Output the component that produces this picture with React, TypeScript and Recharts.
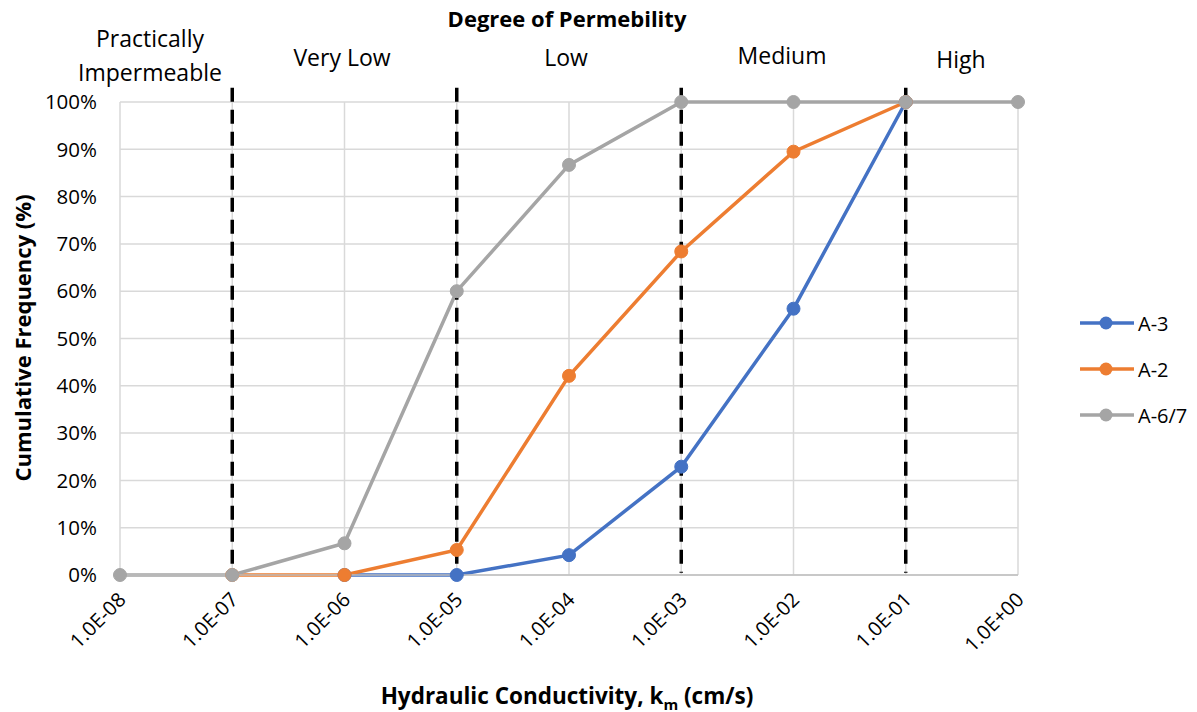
import { LineChart, Line, XAxis, YAxis, CartesianGrid, ReferenceLine } from 'recharts'

const conductivity = ['1.0E-08', '1.0E-07', '1.0E-06', '1.0E-05', '1.0E-04', '1.0E-03', '1.0E-02', '1.0E-01', '1.0E+00']
const a3 = [null, null, 0, 0, 4.2, 22.9, 56.3, 100, null]
const a2 = [null, 0, 0, 5.3, 42.1, 68.4, 89.5, 100, null]
const a67 = [0, 0, 6.7, 60, 86.7, 100, 100, 100, 100]
const yTicks = [0, 10, 20, 30, 40, 50, 60, 70, 80, 90, 100]
const boundaries = ['1.0E-07', '1.0E-05', '1.0E-03', '1.0E-01']

const series = [
  { key: 'a3', name: 'A-3', color: '#4472C4' },
  { key: 'a2', name: 'A-2', color: '#ED7D31' },
  { key: 'a67', name: 'A-6/7', color: '#A5A5A5' },
]

// permeability classes shown above the plot
const classes = [
  { lines: ['Practically', 'Impermeable'], x: 150, y: 21 },
  { lines: ['Very Low'], x: 342, y: 40 },
  { lines: ['Low'], x: 566, y: 40 },
  { lines: ['Medium'], x: 782, y: 38 },
  { lines: ['High'], x: 961, y: 42 },
]

const data = conductivity.map((k, i) => ({ k, a3: a3[i], a2: a2[i], a67: a67[i] }))

const FONT = '"Open Sans", sans-serif'

const XTick = ({ x, y, payload }: any) => (
  <text
    x={x + 7}
    y={y + 18}
    transform={`rotate(-45 ${x + 7} ${y + 18})`}
    textAnchor="end"
    fontSize={20}
    fontFamily={FONT}
    fill="#000"
  >
    {payload.value}
  </text>
)

export default function App() {
  return (
    <div style={{ position: 'absolute', left: 0, top: 0, width: 1197, height: 712, background: '#fff', fontFamily: FONT }}>
      <LineChart width={1197} height={712} data={data} margin={{ top: 102, right: 179, left: 40, bottom: 77 }}>
        <CartesianGrid stroke="#d9d9d9" strokeWidth={1.5} />
        <XAxis
          dataKey="k"
          height={60}
          tick={<XTick />}
          tickLine={false}
          axisLine={{ stroke: '#bfbfbf', strokeWidth: 1.5 }}
          interval={0}
        />
        <YAxis
          width={80}
          domain={[0, 100]}
          ticks={yTicks}
          tickFormatter={(v: number) => `${v}%`}
          tick={{ fontSize: 20.5, fill: '#000', fontFamily: FONT }}
          tickLine={false}
          axisLine={false}
          tickMargin={17}
        />
        {series.map(s => (
          <Line
            key={s.key}
            dataKey={s.key}
            name={s.name}
            stroke={s.color}
            strokeWidth={3.5}
            dot={{ r: 6.5, fill: s.color, stroke: s.color, strokeWidth: 1 }}
            activeDot={false}
            isAnimationActive={false}
          />
        ))}
        {boundaries.map(b => (
          <ReferenceLine
            key={b}
            segment={[{ x: b, y: 103 }, { x: b, y: 0.5 }]}
            ifOverflow="visible"
            stroke="#000"
            strokeWidth={3.5}
            strokeDasharray="14 8"
          />
        ))}
      </LineChart>

      <div style={{ position: 'absolute', left: 0, width: 1134, top: 3, textAlign: 'center', fontWeight: 700, fontSize: 22, lineHeight: '30px' }}>
        Degree of Permebility
      </div>
      {classes.map(c => (
        <div
          key={c.lines.join(' ')}
          style={{ position: 'absolute', left: c.x - 100, width: 200, top: c.y, textAlign: 'center', fontSize: 23, lineHeight: '34px' }}
        >
          {c.lines.map(l => <div key={l}>{l}</div>)}
        </div>
      ))}
      <div
        style={{
          position: 'absolute', left: 22, top: 338, fontWeight: 700, fontSize: 22, whiteSpace: 'nowrap',
          transform: 'translate(-50%, -50%) rotate(-90deg)',
        }}
      >
        Cumulative Frequency (%)
      </div>
      <div style={{ position: 'absolute', left: 0, width: 1134, top: 681, textAlign: 'center', fontWeight: 700, fontSize: 22.5, lineHeight: '30px' }}>
        Hydraulic Conductivity, k<sub style={{ fontSize: 15, lineHeight: 0 }}>m</sub> (cm/s)
      </div>

      <div style={{ position: 'absolute', left: 1079, top: 300 }}>
        {series.map(s => (
          <div key={s.key} style={{ display: 'flex', alignItems: 'center', height: 46, fontSize: 20 }}>
            <svg width={56} height={16}>
              <line x1={1} y1={8} x2={55} y2={8} stroke={s.color} strokeWidth={3.5} />
              <circle cx={27} cy={8} r={6.5} fill={s.color} />
            </svg>
            <span style={{ marginLeft: 3 }}>{s.name}</span>
          </div>
        ))}
      </div>
    </div>
  )
}
